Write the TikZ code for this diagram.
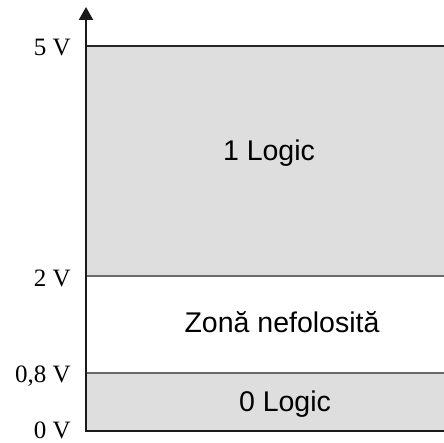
\documentclass[tikz,border=0pt]{standalone}
\usepackage{fontspec}
\setmainfont{Liberation Serif}
\newfontfamily\boxfont{Liberation Sans}
\usetikzlibrary{arrows.meta}
\definecolor{zonegray}{HTML}{DEDEDE}
\definecolor{levelgray}{HTML}{6A6A6A}
\tikzset{
  vlabel/.style={anchor=base east, inner sep=0pt, font=\fontsize{25}{25}\selectfont},
  zonetext/.style={anchor=base, inner sep=0pt, font=\boxfont\fontsize{28.5}{28.5}\selectfont},
  levelline/.style={draw=levelgray, line width=1.6pt},
  topline/.style={draw=black!85, line width=1.6pt},
  axisline/.style={draw=black!90, line width=2.2pt}
}
\begin{document}
\begin{tikzpicture}[x=1pt,y=1pt]
\useasboundingbox (0,0) rectangle (444,443);
% coordinates
\coordinate (o) at (86,12);
\coordinate (oR) at (444,12);
\coordinate (a08) at (86,70);
\coordinate (a08R) at (444,70);
\coordinate (a2) at (86,167);
\coordinate (a2R) at (444,167);
\coordinate (a5) at (86,397);
\coordinate (a5R) at (444,397);
\coordinate (top) at (86,436);
% fills
\fill[zonegray] (a2) rectangle (a5R);
\fill[zonegray] (o) rectangle (a08R);
% level lines
\draw[topline] (a5) -- (a5R);
\draw[levelline] (a2) -- (a2R);
\draw[levelline] (a08) -- (a08R);
% axes
\draw[axisline] (oR) -- (o);
\draw[axisline, -{Triangle[width=14pt,length=13pt]}] ([yshift=-1.1pt]o) -- (top);
% labels
\node[vlabel] (l5) at (71,387) {5 V};
\node[vlabel] (l2) at (71,156) {2 V};
\node[vlabel] (l08) at (71,60) {0,8 V};
\node[vlabel] (l0) at (71,4) {0 V};
% zone texts
\node[zonetext] (z1) at (269,282) {1 Logic};
\node[zonetext] (zn) at (282,110) {Zonă nefolosită};
\node[zonetext] (z0) at (285,31) {0 Logic};
\end{tikzpicture}
\end{document}
